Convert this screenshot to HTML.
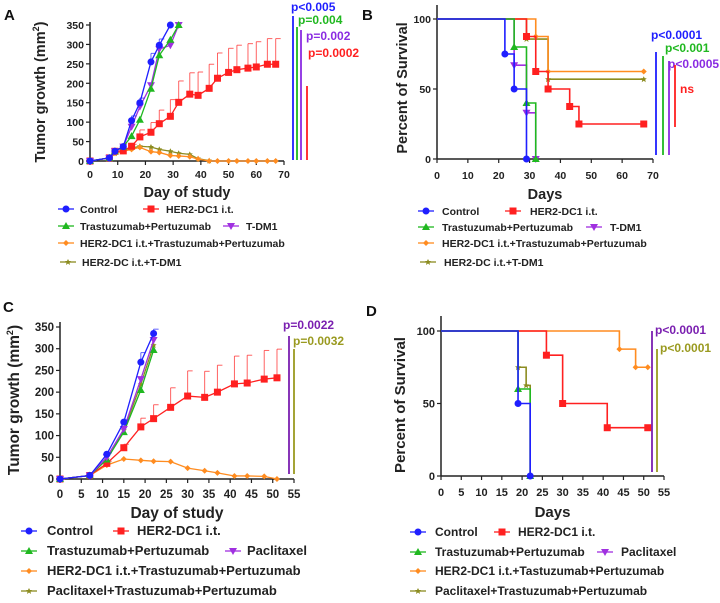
<!DOCTYPE html>
<html><head><meta charset="utf-8"><style>
body{margin:0;background:#fff;width:720px;height:598px;overflow:hidden}
svg{font-family:"Liberation Sans",Arial,sans-serif;font-weight:bold}
</style></head><body>
<svg id="s" width="720" height="598"></svg>
<script>
const COL={blue:'#1f1fff',red:'#ff2020',green:'#20b820',purple:'#a030e0',orange:'#ff8c20',olive:'#8c8c20'};
// Panel A data
const aCtrlX=[0,7,9,12,15,18,22,25,29], aCtrlY=[0,8,25,37,104,150,255,298,350], aCtrlE=[0,0,0,0,12,12,22,16,0];
const aHerX=[0,7,9,12,15,18,22,25,29,32,36,39,43,46,50,53,57,60,64,67];
const aHerY=[0,8,25,26,38,62,74,96,115,151,172,169,187,213,228,235,239,242,249,249];
const aHerE=[0,0,0,0,5,18,25,35,43,55,55,60,62,65,62,63,63,65,66,66];
const aTPX=[0,7,9,12,15,18,22,25,29,32], aTPY=[0,8,25,37,64,106,186,272,312,350];
const aTDX=[0,7,9,12,15,18,22,25,29,32], aTDY=[0,8,25,37,88,140,195,288,298,350];
const aOrX=[0,7,9,12,15,18,22,25,29,32,36,39,43,46,50,53,57,60,64,67], aOrY=[0,8,20,25,30,35,24,22,14,13,11,5,0,0,0,0,0,0,0,0];
const aOlX=[0,7,9,12,15,18,22,25,29,32,36,39,43], aOlY=[0,8,20,28,33,38,36,30,25,20,17,6,1];
// Panel B data
const bCtrlT=[0,22,25,29], bCtrlS=[100,75,50,0];
const bTPT=[0,25,29,32], bTPS=[100,80,40,0];
const bTDT=[0,25,29,32], bTDS=[100,67,33,0];
const bHerT=[0,29,32,36,43,46,67], bHerS=[100,87.5,62.5,50,37.5,25,25];
const bOrT=[0,32,36,67], bOrS=[100,87.5,62.5,62.5];
const bOlT=[0,29,36,67], bOlS=[100,85.7,57,57];
// Panel C data
const cCtrlX=[0,7,11,15,19,22], cCtrlY=[0,8,57,131,269,335], cCtrlE=[0,0,3,5,22,10];
const cHerX=[0,7,11,15,19,22,26,30,34,37,41,44,48,51], cHerY=[0,8,36,72,120,139,165,191,188,200,219,221,230,233];
const cHerE=[0,0,5,8,20,32,45,58,60,62,64,64,66,66];
const cTPX=[0,7,11,15,19,22], cTPY=[0,8,45,108,205,297];
const cPaX=[0,7,11,15,19,22], cPaY=[0,8,50,115,230,320];
const cOrX=[0,7,11,15,19,22,26,30,34,37,41,44,48,51], cOrY=[0,8,32,46,43,41,40,25,19,14,7,7,6,0];
const cOlX=[0,7,11,15,19,22], cOlY=[0,8,45,112,218,308];
// Panel D data
const dCtrlT=[0,19,22], dCtrlS=[100,50,0];
const dTPT=[0,19,22], dTPS=[100,60,0];
const dOlT=[0,19,21,22], dOlS=[100,75,62.5,0];
const dHerT=[0,26,30,41,51], dHerS=[100,83.3,50,33.3,33.3];
const dOrT=[0,44,48,51], dOrS=[100,87.5,75,75];

const S=document.getElementById('s');const NS='http://www.w3.org/2000/svg';
function el(t,a,p){const e=document.createElementNS(NS,t);for(const k in a)e.setAttribute(k,a[k]);(p||S).appendChild(e);return e;}
function txt(x,y,s,a,p){const e=el('text',Object.assign({x:x,y:y},a),p);e.textContent=s;return e;}
function mk(shape,x,y,c,g){
  let e;
  if(shape==='circle')e=el('circle',{cx:x,cy:y,r:3.5,fill:c},g);
  else if(shape==='square')e=el('rect',{x:x-3.5,y:y-3.5,width:7,height:7,fill:c},g);
  else if(shape==='up')e=el('polygon',{points:`${x},${y-4} ${x+4},${y+3} ${x-4},${y+3}`,fill:c},g);
  else if(shape==='down')e=el('polygon',{points:`${x-4},${y-3} ${x+4},${y-3} ${x},${y+4}`,fill:c},g);
  else if(shape==='diamond')e=el('polygon',{points:`${x},${y-3} ${x+3},${y} ${x},${y+3} ${x-3},${y}`,fill:c},g);
  else e=el('polygon',{points:`${x},${y-3} ${x+1},${y-1} ${x+3},${y-1} ${x+1.5},${y+0.5} ${x+2},${y+3} ${x},${y+1.5} ${x-2},${y+3} ${x-1.5},${y+0.5} ${x-3},${y-1} ${x-1},${y-1}`,fill:c},g);
  
  
  return e;
}
function axes(o){
  const g=el('g',{});
  
  
  const fs=o.fs||10.5;
  const sx=v=>o.x0+(v-o.xmin)/(o.xmax-o.xmin)*(o.x1-o.x0);
  const sy=v=>o.y0+(v-o.ymin)/(o.ymax-o.ymin)*(o.y1-o.y0);
  el('line',{x1:o.x0,y1:o.y0,x2:o.x1,y2:o.y0,stroke:'#222','stroke-width':1.5},g);
  el('line',{x1:o.x0,y1:o.y0,x2:o.x0,y2:o.ytop,stroke:'#222','stroke-width':1.5},g);
  o.xt.forEach(v=>{el('line',{x1:sx(v),y1:o.y0,x2:sx(v),y2:o.y0+4,stroke:'#222','stroke-width':1.2},g);
    const t=txt(sx(v),o.xlY,v,{'font-size':fs,'text-anchor':'middle',fill:'#222'},g);
    });
  o.yt.forEach(v=>{el('line',{x1:o.x0-4,y1:sy(v),x2:o.x0,y2:sy(v),stroke:'#222','stroke-width':1.2},g);
    const t=txt(o.x0-6,sy(v)+4,v,{'font-size':fs,'text-anchor':'end',fill:'#222'},g);
    });
  const xt=txt((o.x0+o.x1)/2,o.xtY,o.xtitle,{'font-size':o.tfs||14.5,'text-anchor':'middle',fill:'#222'},g);
  
  const yt=el('text',{x:0,y:0,'font-size':o.tfs||14.5,'text-anchor':'middle',fill:'#222',transform:`translate(${o.ytX},${o.ytY}) rotate(-90)`},g);
  yt.innerHTML=o.ytitle;
  
  return {sx,sy,g};
}
function series(A,xs,ys,es,c,shape,name){
  const g=el('g',{},A.g);
  
  
  if(es)xs.forEach((x,i)=>{if(es[i]>0){const X=A.sx(x),Y=A.sy(ys[i]),T=A.sy(ys[i]+es[i]);
    el('line',{x1:X,y1:Y,x2:X,y2:T,stroke:c,'stroke-width':1,opacity:0.7},g);
    el('line',{x1:X,y1:T,x2:X+5,y2:T,stroke:c,'stroke-width':1,opacity:0.7},g);}});
  el('polyline',{points:xs.map((x,i)=>A.sx(x)+','+A.sy(ys[i])).join(' '),fill:'none',stroke:c,'stroke-width':1.3},g);
  xs.forEach((x,i)=>mk(shape,A.sx(x),A.sy(ys[i]),c,g));
}
function surv(A,ts,ss,c,shape,name){
  const g=el('g',{},A.g);
  
  
  let p=[];for(let i=0;i<ts.length;i++){if(i>0)p.push(A.sx(ts[i])+','+A.sy(ss[i-1]));p.push(A.sx(ts[i])+','+A.sy(ss[i]));}
  el('polyline',{points:p.join(' '),fill:'none',stroke:c,'stroke-width':1.6},g);
  for(let i=1;i<ts.length;i++)mk(shape,A.sx(ts[i]),A.sy(ss[i]),c,g);
}
function pline(x,y1,y2,c,t,tx,ty){
  el('line',{x1:x,y1:y1,x2:x,y2:y2,stroke:c,'stroke-width':1.8});
  const e=txt(tx,ty,t,{'font-size':12,fill:c});
  
}
function legend(x,y,c,shape,label,tx,fs){
  const g=el('g',{});
  
  
  el('line',{x1:x-8,y1:y,x2:x+8,y2:y,stroke:c,'stroke-width':1.3},g);
  mk(shape,x,y,c,g);
  txt(tx,y+4,label,{'font-size':fs,fill:'#222'},g);
}
function plabel(x,y,s){const e=txt(x,y,s,{'font-size':15,fill:'#111'});}

// A
plabel(4,20,'A');
let A=axes({name:'panel-a-chart',x0:90,x1:284,y0:161,y1:25,ytop:22,xmin:0,xmax:70,ymin:0,ymax:350,xt:[0,10,20,30,40,50,60,70],yt:[0,50,100,150,200,250,300,350],xlY:178,xtitle:'Day of study',xtY:197,ytitle:'Tumor growth (mm<tspan font-size="9" dy="-6">2</tspan><tspan dy="6">)</tspan>',ytX:45,ytY:92});
series(A,aOlX,aOlY,null,COL.olive,'star','series-her2dc-tdm1');
series(A,aOrX,aOrY,null,COL.orange,'diamond','series-her2dc1-tp');
series(A,aHerX,aHerY,aHerE,COL.red,'square','series-her2dc1');
series(A,aTDX,aTDY,null,COL.purple,'down','series-tdm1');
series(A,aTPX,aTPY,null,COL.green,'up','series-trastuzumab-pertuzumab');
series(A,aCtrlX,aCtrlY,aCtrlE,COL.blue,'circle','series-control');
pline(293,16,160,COL.blue,'p<0.005',291,11);
pline(297,27,160,COL.green,'p=0.004',298,24);
pline(301,30,160,'#8a2be2','p=0.002',306,40);
pline(307,86,160,COL.red,'p=0.0002',308,57);
legend(66,209,COL.blue,'circle','Control',80,10.5);legend(151,209,COL.red,'square','HER2-DC1 i.t.',166,10.5);
legend(66,226,COL.green,'up','Trastuzumab+Pertuzumab',80,10.5);legend(231,226,COL.purple,'down','T-DM1',246,10.5);
legend(66,243,COL.orange,'diamond','HER2-DC1 i.t.+Trastuzumab+Pertuzumab',80,10.5);
legend(68,262,COL.olive,'star','HER2-DC i.t.+T-DM1',82,10.5);

// B
plabel(362,20,'B');
let B=axes({name:'panel-b-chart',x0:437,x1:653,y0:159,y1:19,ytop:5,xmin:0,xmax:70,ymin:0,ymax:100,xt:[0,10,20,30,40,50,60,70],yt:[0,50,100],xlY:179,xtitle:'Days',xtY:199,ytitle:'Percent of Survival',ytX:407,ytY:88});
surv(B,bOlT,bOlS,COL.olive,'star','survival-her2dc-tdm1');
surv(B,bOrT,bOrS,COL.orange,'diamond','survival-her2dc1-tp');
surv(B,bHerT,bHerS,COL.red,'square','survival-her2dc1');
surv(B,bTDT,bTDS,COL.purple,'down','survival-tdm1');
surv(B,bTPT,bTPS,COL.green,'up','survival-trastuzumab-pertuzumab');
surv(B,bCtrlT,bCtrlS,COL.blue,'circle','survival-control');
pline(656,52,155,COL.blue,'p<0.0001',651,39);
pline(663,56,155,COL.green,'p<0.001',665,52);
pline(669,61,155,'#8a2be2','p<0.0005',668,68);
pline(675,65,127,COL.red,'ns',680,93);
legend(426,211,COL.blue,'circle','Control',442,10.5);legend(513,211,COL.red,'square','HER2-DC1 i.t.',530,10.5);
legend(426,227,COL.green,'up','Trastuzumab+Pertuzumab',442,10.5);legend(594,227,COL.purple,'down','T-DM1',610,10.5);
legend(426,243,COL.orange,'diamond','HER2-DC1 i.t.+Trastuzumab+Pertuzumab',442,10.5);
legend(428,262,COL.olive,'star','HER2-DC i.t.+T-DM1',444,10.5);

// C
plabel(3,312,'C');
let C=axes({name:'panel-c-chart',x0:60,x1:294,y0:479,y1:327,ytop:322,xmin:0,xmax:55,ymin:0,ymax:350,xt:[0,5,10,15,20,25,30,35,40,45,50,55],yt:[0,50,100,150,200,250,300,350],fs:11.5,tfs:15.5,xlY:498,xtitle:'Day of study',xtY:518,ytitle:'Tumor growth (mm<tspan font-size="9" dy="-6">2</tspan><tspan dy="6">)</tspan>',ytX:19,ytY:400});
series(C,cOrX,cOrY,null,COL.orange,'diamond','series-her2dc1-tp');
series(C,cHerX,cHerY,cHerE,COL.red,'square','series-her2dc1');
series(C,cOlX,cOlY,null,COL.olive,'star','series-paclitaxel-tp');
series(C,cTPX,cTPY,null,COL.green,'up','series-trastuzumab-pertuzumab');
series(C,cPaX,cPaY,null,COL.purple,'down','series-paclitaxel');
series(C,cCtrlX,cCtrlY,cCtrlE,COL.blue,'circle','series-control');
pline(289,336,474,'#7a1fb0','p=0.0022',283,329);
pline(294,349,474,'#9a9a20','p=0.0032',293,345);
legend(29,531,COL.blue,'circle','Control',47,13);legend(121,531,COL.red,'square','HER2-DC1 i.t.',137,13);
legend(29,551,COL.green,'up','Trastuzumab+Pertuzumab',47,13);legend(233,551,COL.purple,'down','Paclitaxel',247,13);
legend(29,571,COL.orange,'diamond','HER2-DC1 i.t.+Trastuzumab+Pertuzumab',47,13);
legend(29,591,COL.olive,'star','Paclitaxel+Trastuzumab+Pertuzumab',47,13);

// D
plabel(366,316,'D');
let D=axes({name:'panel-d-chart',x0:441,x1:664,y0:476,y1:331,ytop:316,xmin:0,xmax:55,ymin:0,ymax:100,xt:[0,5,10,15,20,25,30,35,40,45,50,55],yt:[0,50,100],fs:11,tfs:15,xlY:496,xtitle:'Days',xtY:517,ytitle:'Percent of Survival',ytX:405,ytY:405});
surv(D,dOrT,dOrS,COL.orange,'diamond','survival-her2dc1-tp');
surv(D,dHerT,dHerS,COL.red,'square','survival-her2dc1');
surv(D,dOlT,dOlS,COL.olive,'star','survival-paclitaxel-tp');
surv(D,dTPT,dTPS,COL.green,'up','survival-trastuzumab-pertuzumab');
surv(D,dCtrlT,dCtrlS,COL.blue,'circle','survival-control');
pline(652,331,472,'#7a1fb0','p<0.0001',655,334);
pline(657,349,472,'#9a9a20','p<0.0001',660,352);
legend(418,532,COL.blue,'circle','Control',435,12);legend(502,532,COL.red,'square','HER2-DC1 i.t.',518,12);
legend(418,552,COL.green,'up','Trastuzumab+Pertuzumab',435,12);legend(605,552,COL.purple,'down','Paclitaxel',621,12);
legend(418,571,COL.orange,'diamond','HER2-DC1 i.t.+Tastuzumab+Pertuzumab',435,12);
legend(418,591,COL.olive,'star','Paclitaxel+Trastuzumab+Pertuzumab',435,12);
</script>
</body></html>
